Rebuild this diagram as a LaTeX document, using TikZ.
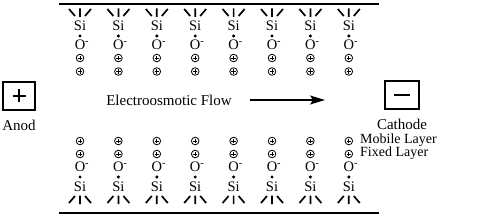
\documentclass[tikz,border=0pt]{standalone}
\usepackage{fontspec}
\setmainfont{Liberation Serif}
\usetikzlibrary{arrows.meta}

\tikzset{
  wall/.style={line width=2pt},
  bond/.style={line width=1.7pt},
  atom/.style={font=\fontsize{14.5}{14.5}\selectfont, inner sep=0pt},
  label/.style={font=\fontsize{15}{15}\selectfont, inner sep=0pt},
  layer/.style={font=\fontsize{14}{14}\selectfont, inner sep=0pt, anchor=base west},
  dot/.style={circle, fill, inner sep=0pt, minimum size=3.4pt},
  ion/.style={circle, draw, line width=0.8pt, minimum size=7.6pt, inner sep=0pt,
    path picture={
      \draw[line width=0.8pt] ([xshift=-2.2pt]path picture bounding box.center) -- ([xshift=2.2pt]path picture bounding box.center)
        ([yshift=-2.2pt]path picture bounding box.center) -- ([yshift=2.2pt]path picture bounding box.center);}},
  electrode/.style={draw, line width=1.6pt, minimum width=32pt, minimum height=28pt, inner sep=0pt},
}

\begin{document}
\begin{tikzpicture}[x=1pt, y=-1pt]
  \useasboundingbox (0,0) rectangle (500,219);

  % Capillary walls
  \draw[wall] (59,4) -- (379,4);
  \draw[wall] (59,213) -- (379,213);

  % Upper wall: Si, O-, cations
  \foreach \x [count=\i] in {80,118.4,156.8,195.2,233.6,272,310.4,348.8} {
    \draw[bond] (\x-11,9) -- (\x-5,16) (\x,8.5) -- (\x,17) (\x+11,9) -- (\x+5,16);
    \node[atom] (siT\i) at (\x,26) {Si};
    \node[dot] (dT\i) at (\x,36) {};
    \node[atom] (oT\i) at (\x,45) {O\rlap{\textsuperscript{-}}};
    \node[ion] (fixT\i) at (\x,58) {};
    \node[ion] (mobT\i) at (\x,71.5) {};
  }

  % Lower wall: Si, O-, cations
  \foreach \x [count=\i] in {80,118.4,156.8,195.2,233.6,272,310.4,348.8} {
    \draw[bond] (\x-5,196) -- (\x-11,203) (\x,195.5) -- (\x,204) (\x+5,196) -- (\x+11,203);
    \node[atom] (siB\i) at (\x,187) {Si};
    \node[dot] (dB\i) at (\x,177) {};
    \node[atom] (oB\i) at (\x,167) {O\rlap{\textsuperscript{-}}};
    \node[ion] (fixB\i) at (\x,154) {};
    \node[ion] (mobB\i) at (\x,141) {};
  }

  % Electrodes
  \node[electrode, path picture={
      \draw[line width=2pt] ([xshift=-6.5pt]path picture bounding box.center) -- ([xshift=6.5pt]path picture bounding box.center)
        ([yshift=-6.5pt]path picture bounding box.center) -- ([yshift=6.5pt]path picture bounding box.center);}]
    (anode) at (19,96) {};
  \node[label] (anodLbl) at (19,125) {Anod};
  \node[electrode, minimum width=34pt, path picture={
      \draw[line width=2pt] ([xshift=-8pt]path picture bounding box.center) -- ([xshift=8pt]path picture bounding box.center);}]
    (cathode) at (402,95) {};
  \node[label] (cathodeLbl) at (402,124) {Cathode};

  % Flow
  \node[label] (flowLbl) at (169,100) {Electroosmotic Flow};
  \coordinate (flowTail) at (250,100);
  \coordinate (flowHead) at (325,100);
  \draw[line width=1.5pt, -{Stealth[length=15pt, width=9pt, inset=3pt]}] (flowTail) -- (flowHead);

  % Layer labels
  \node[layer] (mobileLbl) at (360,143.5) {Mobile Layer};
  \node[layer] (fixedLbl) at (360,156.8) {Fixed Layer};
\end{tikzpicture}
\end{document}
